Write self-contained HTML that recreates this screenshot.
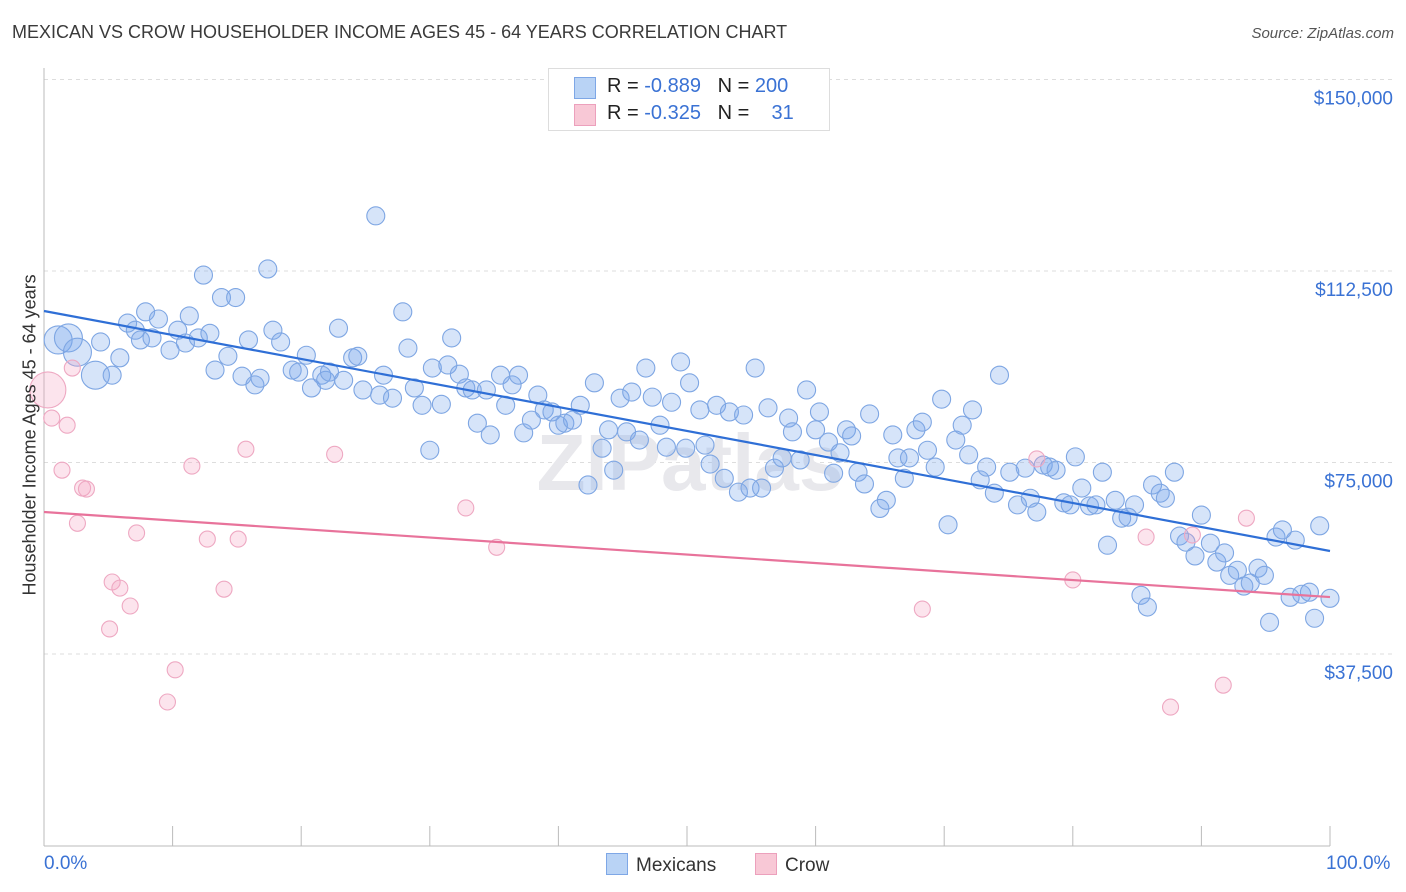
<!DOCTYPE html>
<html><head><meta charset="utf-8">
<style>
body{margin:0;background:#fff;font-family:"Liberation Sans",sans-serif;}
#wrap{position:relative;width:1406px;height:892px;overflow:hidden;}
.t{position:absolute;white-space:nowrap;}
</style></head>
<body>
<div id="wrap">
<div class="t" style="left:12px;top:22px;font-size:18px;color:#3a3a3a;">MEXICAN VS CROW HOUSEHOLDER INCOME AGES 45 - 64 YEARS CORRELATION CHART</div>
<div class="t" style="right:12px;top:25px;font-size:15px;color:#555;font-style:italic;">Source: ZipAtlas.com</div>
<svg id="svg" width="1406" height="892" style="position:absolute;left:0;top:0"></svg>
</div>
<script>
const yTicks=[37500,75000,112500,150000];
const yTickLabels=["$37,500","$75,000","$112,500","$150,000"];
const mexX=[1.1,1.9,2.6,4.0,4.4,5.3,5.9,6.5,7.1,7.5,7.9,8.4,8.9,9.8,10.4,11.0,11.3,12.0,12.4,12.9,13.3,13.8,14.3,14.9,15.4,15.9,16.4,16.8,17.4,17.8,18.4,19.3,19.8,20.4,20.8,21.6,21.9,22.2,22.9,23.3,24.0,24.4,24.8,25.8,26.1,26.4,27.1,27.9,28.3,28.8,29.4,30.0,30.2,30.9,31.4,31.7,32.3,32.8,33.3,33.7,34.4,34.7,35.5,35.9,36.4,36.9,37.3,37.9,38.4,38.9,39.5,40.0,40.5,41.1,41.7,42.3,42.8,43.4,43.9,44.3,44.8,45.3,45.7,46.3,46.8,47.3,47.9,48.4,48.8,49.5,49.9,50.2,51.0,51.4,51.8,52.3,52.9,53.3,54.0,54.4,54.9,55.3,55.8,56.3,56.8,57.4,57.9,58.2,58.8,59.3,60.0,60.3,61.0,61.4,61.9,62.4,62.8,63.3,63.8,64.2,65.0,65.5,66.0,66.4,66.9,67.3,67.8,68.3,68.7,69.3,69.8,70.3,70.9,71.4,71.9,72.2,72.8,73.3,73.9,74.3,75.1,75.7,76.3,76.7,77.2,77.7,78.2,78.7,79.3,79.8,80.2,80.7,81.3,81.8,82.3,82.7,83.3,83.8,84.3,84.8,85.3,85.8,86.2,86.8,87.2,87.9,88.3,88.8,89.5,90.0,90.7,91.2,91.8,92.2,92.8,93.3,93.8,94.4,94.9,95.3,95.8,96.3,96.9,97.3,97.8,98.4,98.8,99.2,100];
const mexY=[99.0,99.4,96.6,92.1,98.6,92.1,95.5,102.3,100.9,99.0,104.5,99.4,103.1,97.0,100.9,98.4,103.7,99.4,111.7,100.3,93.1,107.3,95.8,107.3,91.9,99.0,90.2,91.5,112.9,100.9,98.6,93.1,92.7,96.0,89.6,92.1,91.1,92.7,101.3,91.1,95.5,95.8,89.2,123.3,88.2,92.1,87.6,104.5,97.4,89.6,86.2,77.4,93.5,86.4,94.1,99.4,92.3,89.6,89.2,82.7,89.2,80.4,92.1,86.2,90.2,92.1,80.8,83.3,88.2,85.3,84.9,82.3,82.7,83.3,86.2,70.6,90.6,77.8,81.4,73.5,87.6,81.0,88.8,79.4,93.5,87.8,82.3,78.0,86.8,94.7,77.8,90.6,85.3,78.4,74.7,86.2,71.9,84.9,69.2,84.3,70.0,93.5,70.0,85.7,73.9,75.9,83.7,81.0,75.5,89.2,81.4,84.9,79.0,72.9,76.9,81.4,80.2,73.1,70.8,84.5,66.0,67.6,80.4,75.9,71.9,75.9,81.4,82.9,77.4,74.1,87.4,62.8,79.4,82.3,76.5,85.3,71.6,74.1,69.0,92.1,73.1,66.7,73.9,68.0,65.3,74.5,74.1,73.5,67.1,66.7,76.1,70.0,66.5,66.7,73.1,58.8,67.6,64.1,64.3,66.7,49.0,46.7,70.6,69.0,68.0,73.1,60.6,59.4,56.7,64.7,59.2,55.5,57.3,52.9,53.9,50.8,51.4,54.3,52.9,43.7,60.4,61.8,48.6,59.8,49.2,49.6,44.5,62.6,48.4];
const crowX=[0.3,0.6,1.8,1.4,2.2,3.0,3.3,2.6,7.2,5.3,5.9,6.7,5.1,10.2,9.6,11.5,12.7,14.0,15.1,15.7,22.6,32.8,35.2,68.3,77.2,80.0,85.7,87.6,89.3,91.7,93.5];
const crowY=[89.2,83.7,82.3,73.5,93.5,70.0,69.8,63.1,61.2,51.6,50.4,46.9,42.4,34.4,28.1,74.3,60.0,50.2,60.0,77.6,76.6,66.1,58.4,46.3,75.7,52.0,60.4,27.1,60.8,31.4,64.1];
const mexTrend=[104.67,57.67];
const crowTrend=[65.3,48.65];

const NS="http://www.w3.org/2000/svg";
const svg=document.getElementById('svg');
const X=p=>44+p*12.86;
const Y=v=>845.5-(v*1000)/37500*191.5;
function mk(t,a){const e=document.createElementNS(NS,t);for(const k in a)e.setAttribute(k,a[k]);svg.appendChild(e);return e;}
yTicks.forEach((v,i)=>{
 const g=mk('line',{x1:44,x2:1394,y1:Y(v/1000),y2:Y(v/1000),stroke:'#ddd','stroke-dasharray':'4,4'});
 
 
 const t=mk('text',{x:1393,y:Y(v/1000)+25,'text-anchor':'end','font-size':19,fill:'#3a72d4','font-family':'Liberation Sans'});
 t.textContent=yTickLabels[i];
 
 
});
const ax=mk('line',{x1:44,x2:44,y1:68,y2:846,stroke:'#bbb'});


const bx=mk('line',{x1:44,x2:1330,y1:846,y2:846,stroke:'#bbb'});


for(let i=0;i<=10;i++){
 const tk=mk('line',{x1:X(i*10),x2:X(i*10),y1:826,y2:846,stroke:'#bbb'});
 
 
}
const wm=mk('text',{x:690,y:490,'text-anchor':'middle','font-size':80,fill:'#e8e8ec','font-weight':'bold','font-family':'Liberation Sans'});
wm.textContent='ZIPatlas';


mexX.forEach((x,i)=>{
 const r=(i<4)?14:9;
 const c=mk('circle',{cx:X(x),cy:Y(mexY[i]),r:r,fill:'rgba(120,165,235,0.3)',stroke:'#7ea6e3','stroke-width':1.1});
 
 
});
crowX.forEach((x,i)=>{
 const r=(i==0)?18:8;
 const c=mk('circle',{cx:X(x),cy:Y(crowY[i]),r:r,fill:'rgba(245,165,195,0.3)',stroke:'#eea8c2','stroke-width':1.1});
 
 
});
const l1=mk('line',{x1:X(0),y1:Y(mexTrend[0]),x2:X(100),y2:Y(mexTrend[1]),stroke:'#2f6fd6','stroke-width':2.2});


const l2=mk('line',{x1:X(0),y1:Y(crowTrend[0]),x2:X(100),y2:Y(crowTrend[1]),stroke:'#e8739b','stroke-width':2.2});


</script>
<div class="t" style="left:-110px;top:445px;width:280px;text-align:center;transform:rotate(-90deg);font-size:18px;color:#333;">Householder Income Ages 45 - 64 years</div>
<div class="t" style="left:44px;top:853px;font-size:19px;color:#3a72d4;">0.0%</div>
<div class="t" style="left:1326px;top:853px;font-size:19px;color:#3a72d4;">100.0%</div>
<div style="position:absolute;left:548px;top:68px;width:280px;height:61px;border:1px solid #ddd;background:#fff;font-size:20px;color:#222;">
 <div style="position:absolute;left:25px;top:8px;width:20px;height:20px;background:#b9d3f5;border:1px solid #7ea7e6;"></div>
 <div class="t" style="left:58px;top:6px;">R = <span style="color:#3a72d4">-0.889</span>&nbsp;&nbsp;&nbsp;N = <span style="color:#3a72d4">200</span></div>
 <div style="position:absolute;left:25px;top:35px;width:20px;height:20px;background:#f8c8d6;border:1px solid #eca0bc;"></div>
 <div class="t" style="left:58px;top:33px;">R = <span style="color:#3a72d4">-0.325</span>&nbsp;&nbsp;&nbsp;N = <span style="color:#3a72d4">&nbsp;&nbsp;&nbsp;31</span></div>
</div>
<div style="position:absolute;left:606px;top:853px;font-size:19px;color:#333;">
 <span style="display:inline-block;width:20px;height:20px;background:#b9d3f5;border:1px solid #7ea7e6;vertical-align:-4px;margin-right:8px;"></span>Mexicans</div>
<div style="position:absolute;left:755px;top:853px;font-size:19px;color:#333;">
 <span style="display:inline-block;width:20px;height:20px;background:#f8c8d6;border:1px solid #eca0bc;vertical-align:-4px;margin-right:8px;"></span>Crow</div>
</body></html>
